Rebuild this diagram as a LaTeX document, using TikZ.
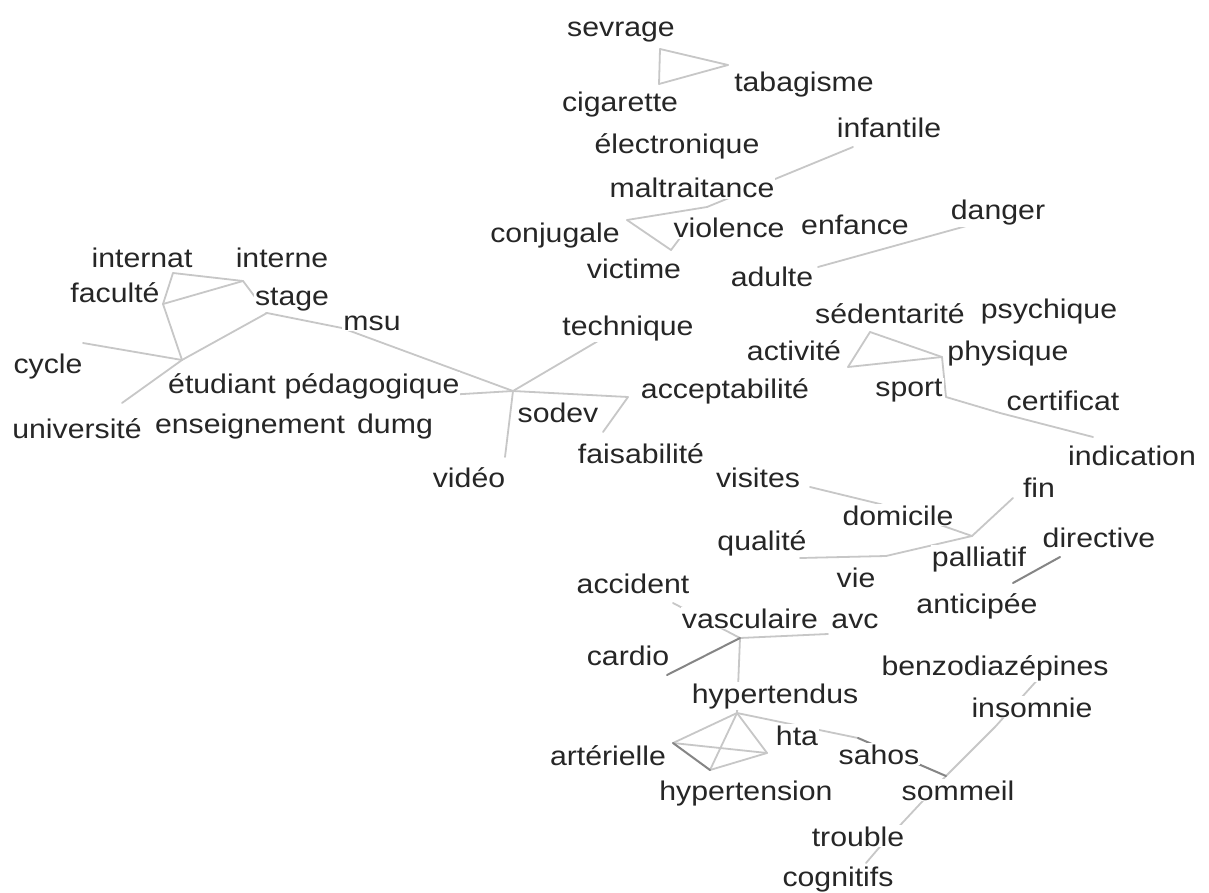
\documentclass[tikz,border=0pt]{standalone}
\usepackage{fontspec}
\setmainfont{Liberation Sans}[FakeStretch=1.12]

\tikzset{
  word/.style={font=\fontsize{27}{27}\selectfont, text=black!85, fill=white, anchor=base, inner sep=1pt},
  link/.style={draw=black!22, line width=1.8pt, line cap=round},
  strong/.style={draw=black!48, line width=2pt, line cap=round}
}

\begin{document}
\begin{tikzpicture}[x=1pt, y=-1pt]
  % page
  \fill [white] (0, 0) rectangle (1209, 893);
  \useasboundingbox (0, 0) rectangle (1209, 893);
  % vertices
  \foreach \id/\x/\y in {sevrage/660/49, tabagisme/728/65, cigarette/659/84,
      infantile/853/147, maltraitance/707/207, conjugale/627/220, victime/671/250,
      violence/680/238, adulte/818/267, danger/970/225,
      internat/173/273, faculte/163/304, interne/243/281, stage/267/313,
      etudiant/182/360, cycle/83/343, universite/122/403, msu/342/328,
      pedagogique/430/396, sodev/513/391, technique/598/341,
      acceptabilite/628/397, faisabilite/603/432, video/505/457,
      sedentarite/870/332, activite/848/367, physique/942/357, sport/946/397,
      certificat/1000/413, indication/1093/437,
      visites/810/487, domicile/880/504, palliatif/972/536, fin/1013/498,
      qualite/800/558, vie/886/556, directive/1060/557, anticipee/1013/583,
      accident/673/603, vasculaire/740/638, cardio/667/675, avc/828/634,
      hypertendus/737/713, arterielle/673/743, hypertension/710/770, hta/767/753,
      sahos/858/738, sommeil/946/776, insomnie/995/727, benzo/1040/677,
      trouble/878/849, cognitifs/866/863}
    \coordinate (p-\id) at (\x, \y);
  % edges
  \foreach \a/\b in {sevrage/tabagisme, sevrage/cigarette, tabagisme/cigarette,
      infantile/maltraitance, conjugale/maltraitance, conjugale/victime,
      victime/violence, adulte/danger,
      internat/faculte, internat/interne, faculte/interne, interne/stage,
      faculte/etudiant, cycle/etudiant, universite/etudiant, etudiant/stage,
      stage/msu, msu/sodev, pedagogique/sodev, sodev/technique,
      sodev/acceptabilite, acceptabilite/faisabilite, sodev/video,
      sedentarite/physique, activite/sedentarite, activite/physique,
      physique/sport, sport/certificat, certificat/indication,
      visites/domicile, domicile/palliatif, fin/palliatif, qualite/vie, vie/palliatif,
      accident/vasculaire, vasculaire/hypertendus, vasculaire/avc,
      hypertendus/arterielle, hypertendus/hypertension, hypertendus/hta,
      hypertension/hta, arterielle/hta, hypertendus/sahos,
      insomnie/sommeil, benzo/insomnie, sommeil/trouble, trouble/cognitifs}
    \draw [link] (p-\a) -- (p-\b);
  \foreach \a/\b in {cardio/vasculaire, arterielle/hypertension,
      directive/anticipee, sahos/sommeil}
    \draw [strong] (p-\a) -- (p-\b);
  % words
  \foreach \id/\x/\y/\txt in {sevrage/621/37/sevrage, tabagisme/804/92/tabagisme,
      cigarette/620/112/cigarette, electronique/677/154/électronique,
      infantile/889/138/infantile, maltraitance/692/198/maltraitance,
      conjugale/555/243/conjugale, violence/729/238/violence,
      enfance/855/235/enfance, danger/998/220/danger,
      victime/634/278/victime, adulte/772/287/adulte,
      internat/142/267/internat, interne/282/267/interne,
      faculte/115/302/faculté, stage/292/305/stage, msu/372/330/msu,
      cycle/48/373/cycle, etudiant/222/393/étudiant,
      pedagogique/372/393/pédagogique, universite/77/438/université,
      enseignement/250/433/enseignement, dumg/395/433/dumg,
      sodev/558/422/sodev, technique/628/335/technique, video/469/487/vidéo,
      faisabilite/641/463/faisabilité, acceptabilite/725/398/acceptabilité,
      sedentarite/890/323/sédentarité, psychique/1049/318/psychique,
      activite/794/360/activité, physique/1008/360/physique,
      sport/909/396/sport, certificat/1063/410/certificat,
      indication/1132/465/indication, visites/758/487/visites,
      fin/1039/497/fin, domicile/898/525/domicile, qualite/762/550/qualité,
      directive/1099/547/directive, palliatif/979/566/palliatif,
      vie/856/587/vie, anticipee/977/613/anticipée,
      accident/633/593/accident, vasculaire/750/628/vasculaire,
      avc/855/628/avc, cardio/628/665/cardio,
      benzo/995/675/benzodiazépines, hypertendus/775/703/hypertendus,
      insomnie/1032/717/insomnie, hta/797/745/hta,
      arterielle/608/765/artérielle, sahos/879/764/sahos,
      hypertension/746/800/hypertension, sommeil/958/800/sommeil,
      trouble/858/846/trouble, cognitifs/838/886/cognitifs}
    \node [word] (\id) at (\x, \y) {\txt};
\end{tikzpicture}
\end{document}
